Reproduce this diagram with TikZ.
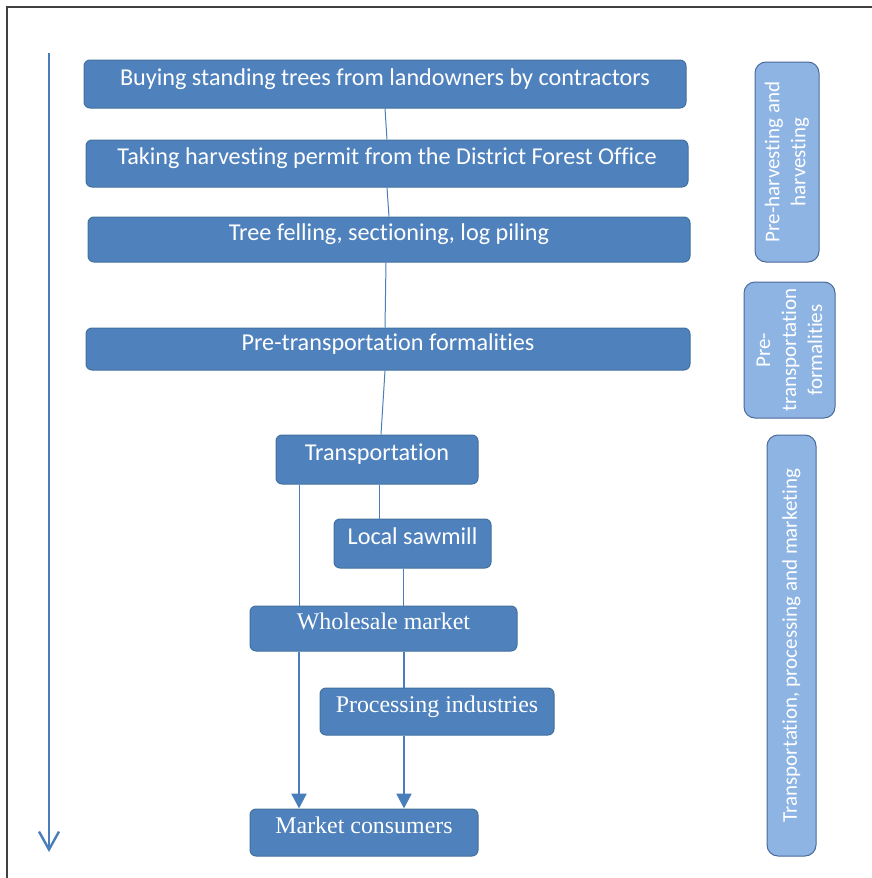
\documentclass[tikz,border=0pt]{standalone}
\usepackage{fontspec}
\setmainfont{Carlito}[Ligatures=NoCommon]
\newfontfamily\timesfont{Liberation Serif}[Ligatures=NoCommon]
\usetikzlibrary{arrows.meta, positioning}

\definecolor{boxblue}{HTML}{4F81BD}
\definecolor{boxedge}{HTML}{41719C}
\definecolor{phaseblue}{HTML}{8EB4E3}
\definecolor{phaseedge}{HTML}{4A6A9A}
\definecolor{lineblue}{HTML}{4A7EBB}
\definecolor{framegray}{HTML}{404040}

\begin{document}
\begin{tikzpicture}[x=1pt, y=-1pt,
  box/.style={draw=boxedge, fill=boxblue, line width=1pt, rounded corners=6pt, text=white, inner sep=0pt, text height=14pt, text depth=12pt, font=\fontsize{24.2}{26}\selectfont},
  serifbox/.style={box, font=\timesfont\fontsize{23.9}{26}\selectfont},
  phase/.style={draw=phaseedge, fill=phaseblue, line width=1pt, rounded corners=11pt, text=white, align=center, rotate=90, inner sep=0pt, font=\fontsize{21}{26}\selectfont},
  link/.style={draw=lineblue, line width=1pt},
  thicklink/.style={draw=lineblue, line width=2.4pt},
  arrow/.style={draw=lineblue, line width=2.4pt, -{Triangle[length=15pt, width=15pt]}},
  timeline/.style={draw=lineblue, line width=2.4pt, -{Straight Barb[length=18pt, width=20pt]}}
]
\useasboundingbox (0,0) rectangle (872,878);

% frame
\draw[framegray, line width=1.6pt] (7,878) -- (7,7) -- (872,7);

% main steps
\node[box, minimum width=602pt, minimum height=48pt] (buying) at (385,84) {Buying standing trees from landowners by contractors};
\node[box, minimum width=602pt, minimum height=47pt] (permit) at (387,163.5) {Taking harvesting permit from the District Forest Office};
\node[box, minimum width=602pt, minimum height=45pt] (felling) at (389,239.5) {Tree felling, sectioning, log piling};
\node[box, minimum width=604pt, minimum height=42pt] (pretrans) at (388,349) {Pre-transportation formalities};
\node[box, minimum width=202pt, minimum height=49pt] (transport) at (377,459.5) {Transportation};
\node[box, minimum width=157pt, minimum height=49pt] (sawmill) at (412.5,543.5) {Local sawmill};
\node[serifbox, minimum width=267pt, minimum height=45pt] (wholesale) at (383.5,628.5) {Wholesale market};
\node[serifbox, minimum width=234pt, minimum height=47pt] (processing) at (437,711.5) {Processing industries};
\node[serifbox, minimum width=228pt, minimum height=47pt] (consumers) at (364,832.5) {Market consumers};

% phases
\node[phase, minimum width=200pt, minimum height=64pt] (harvest) at (787,162) {Pre-harvesting and\\harvesting};
\node[phase, minimum width=136pt, minimum height=91pt] (pretransphase) at (789.5,350) {Pre-\\transportation\\formalities};
\node[phase, minimum width=421pt, minimum height=49pt] (marketing) at (791.5,645.5) {Transportation, processing and marketing};

% time arrow
\coordinate (tstart) at (49,53);
\coordinate (tend) at (49,852);
\draw[timeline] (tstart) -- (tend);

% connectors
\draw[link] (buying.south) -- (permit.north);
\draw[link] (permit.south) -- (felling.north);
\draw[link] ([xshift=-3pt]felling.south) -- ([xshift=-3pt]pretrans.north);
\draw[link] ([xshift=-3pt]pretrans.south) -- ([xshift=4pt]transport.north);
\draw[link] (transport.south -| 379,0) -- (sawmill.north -| 379,0);
\draw[link] (transport.south -| 299,0) -- (wholesale.north -| 299,0);
\draw[link] (sawmill.south -| 403,0) -- (wholesale.north -| 403,0);
\draw[thicklink] (wholesale.south -| 404,0) -- (processing.north -| 404,0);
\draw[arrow] (wholesale.south -| 299,0) -- (consumers.north -| 299,0);
\draw[arrow] (processing.south -| 404,0) -- (consumers.north -| 404,0);

\end{tikzpicture}
\end{document}
